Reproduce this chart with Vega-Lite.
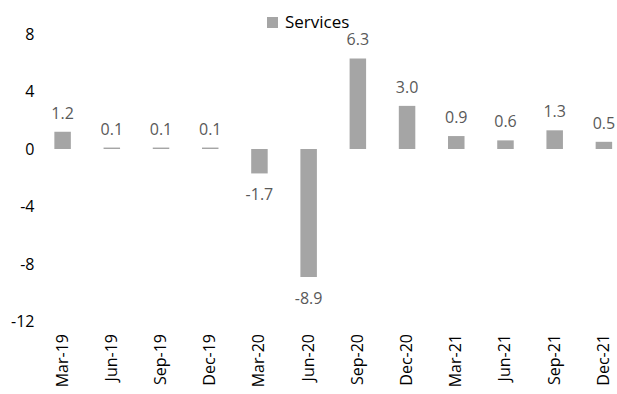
{
  "$schema": "https://vega.github.io/schema/vega-lite/v6.json",
  "width": 579,
  "height": 287.5,
  "autosize": {"type": "none"},
  "padding": {"left": 38, "top": 34, "right": 0, "bottom": 72.5},
  "background": "white",
  "config": {
    "view": {"stroke": null},
    "font": "Open Sans",
    "axis": {"grid": false, "domain": false, "ticks": false, "labelFont": "Open Sans", "labelFontSize": 16, "labelColor": "#000000", "title": null}
  },
  "data": {
    "values": [
      {"quarter": "Mar-19", "value": 1.2, "series": "Services"},
      {"quarter": "Jun-19", "value": 0.1, "series": "Services"},
      {"quarter": "Sep-19", "value": 0.1, "series": "Services"},
      {"quarter": "Dec-19", "value": 0.1, "series": "Services"},
      {"quarter": "Mar-20", "value": -1.7, "series": "Services"},
      {"quarter": "Jun-20", "value": -8.9, "series": "Services"},
      {"quarter": "Sep-20", "value": 6.3, "series": "Services"},
      {"quarter": "Dec-20", "value": 3.0, "series": "Services"},
      {"quarter": "Mar-21", "value": 0.9, "series": "Services"},
      {"quarter": "Jun-21", "value": 0.6, "series": "Services"},
      {"quarter": "Sep-21", "value": 1.3, "series": "Services"},
      {"quarter": "Dec-21", "value": 0.5, "series": "Services"}
    ]
  },
  "transform": [
    {"calculate": "replace(format(datum.value, '.1f'), '\u2212', '-')", "as": "label"}
  ],
  "encoding": {
    "x": {
      "field": "quarter", "type": "ordinal", "sort": null,
      "scale": {"type": "band", "range": [0, 590.5], "paddingInner": 0, "paddingOuter": 0},
      "axis": {"labelAngle": -90, "labelPadding": 12, "orient": "bottom"}
    },
    "y": {
      "field": "value", "type": "quantitative",
      "scale": {"domain": [-12, 8], "nice": false, "zero": false},
      "axis": {"values": [-12, -8, -4, 0, 4, 8], "labelPadding": 4, "labelExpr": "replace(datum.label, '\u2212', '-')"}
    }
  },
  "layer": [
    {
      "mark": {"type": "bar", "width": 16.5},
      "encoding": {
        "color": {
          "field": "series", "type": "nominal",
          "scale": {"range": ["#a5a5a5"]},
          "legend": {
            "orient": "none", "legendX": 226, "legendY": -20, "padding": 0,
            "title": null, "symbolType": "square", "symbolSize": 121,
            "labelFontSize": 17, "labelFont": "Open Sans", "labelColor": "#000000", "labelOffset": 4
          }
        }
      }
    },
    {
      "transform": [{"filter": "datum.value >= 0"}],
      "mark": {"type": "text", "baseline": "middle", "align": "center", "fontSize": 16, "color": "#595959", "dy": -18},
      "encoding": {"text": {"field": "label", "type": "nominal"}}
    },
    {
      "transform": [{"filter": "datum.value < 0"}],
      "mark": {"type": "text", "baseline": "middle", "align": "center", "fontSize": 16, "color": "#595959", "dy": 22},
      "encoding": {"text": {"field": "label", "type": "nominal"}}
    }
  ]
}
